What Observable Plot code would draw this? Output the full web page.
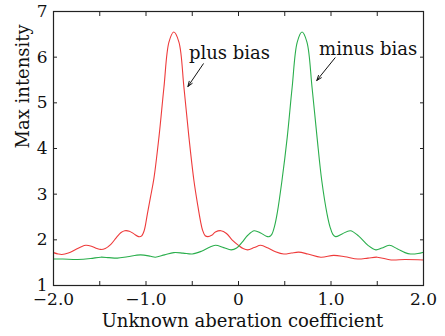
<!DOCTYPE html>
<html><head><meta charset="utf-8">
<script src="https://cdn.jsdelivr.net/npm/d3@7"></script>
<script src="https://cdn.jsdelivr.net/npm/@observablehq/plot@0.6"></script>
<style>body{margin:0;background:#fff} svg, svg text{font-family:"DejaVu Serif", serif !important;}</style>
</head><body><div id="chart"></div>
<script>
// plus bias (red)
const xRed = [-2.00,-1.95,-1.91,-1.84,-1.76,-1.70,-1.65,-1.59,-1.53,-1.49,-1.44,-1.38,-1.32,-1.27,-1.23,-1.18,-1.13,-1.08,-1.05,-1.02,-0.985,-0.95,-0.914,-0.86,-0.806,-0.752,-0.70,-0.644,-0.59,-0.536,-0.482,-0.44,-0.41,-0.39,-0.36,-0.33,-0.29,-0.25,-0.19,-0.13,-0.07,0.00,0.05,0.10,0.17,0.24,0.32,0.40,0.49,0.57,0.65,0.75,0.89,1.03,1.15,1.29,1.40,1.50,1.65,1.80,2.00];
const yRed = [1.72,1.69,1.68,1.71,1.79,1.85,1.88,1.86,1.81,1.79,1.81,1.90,2.05,2.16,2.20,2.19,2.13,2.07,2.08,2.20,2.57,2.95,3.35,4.25,5.34,6.33,6.55,6.33,5.34,4.25,3.30,2.75,2.40,2.22,2.09,2.07,2.10,2.17,2.20,2.14,2.00,1.88,1.81,1.78,1.83,1.88,1.82,1.74,1.69,1.71,1.73,1.69,1.62,1.66,1.63,1.58,1.60,1.62,1.56,1.57,1.56];
// minus bias (green)
const xGreen = [-2.00,-1.90,-1.74,-1.60,-1.49,-1.40,-1.31,-1.20,-1.06,-0.95,-0.90,-0.80,-0.70,-0.60,-0.50,-0.40,-0.32,-0.25,-0.16,-0.08,-0.02,0.04,0.10,0.17,0.24,0.30,0.33,0.36,0.39,0.42,0.47,0.527,0.58,0.635,0.687,0.74,0.795,0.849,0.90,0.957,0.99,1.02,1.05,1.12,1.21,1.30,1.40,1.485,1.55,1.63,1.72,1.80,1.86,1.94,2.00];
const yGreen = [1.58,1.58,1.57,1.59,1.62,1.61,1.60,1.63,1.67,1.64,1.62,1.67,1.72,1.71,1.69,1.75,1.83,1.88,1.83,1.78,1.82,1.95,2.10,2.20,2.15,2.08,2.07,2.12,2.30,2.60,3.30,4.25,5.34,6.33,6.55,6.33,5.34,4.25,3.30,2.57,2.28,2.12,2.07,2.13,2.20,2.08,1.88,1.78,1.82,1.88,1.80,1.72,1.69,1.70,1.73];

const xMinorTicks = [-2,-1.5,-1,-0.5,0,0.5,1,1.5,2];
const xMajorTicks = [-2,-1,0,1,2];
const yTicks = [1,2,3,4,5,6,7];
const xTitle = "Unknown aberation coefficient";
const yTitle = "Max intensity";
const annotLabels = ["plus bias","minus bias"];
const annotX = [-0.536, 0.871];
const annotY = [6.08, 6.17];
const arrowX1 = [-0.380, 1.044];
const arrowY1 = [5.855, 5.986];
const arrowX2 = [-0.547, 0.846];
const arrowY2 = [5.358, 5.489];

const red = xRed.map((x,i)=>({x, y:yRed[i]}));
const green = xGreen.map((x,i)=>({x, y:yGreen[i]}));
const annots = annotLabels.map((t,i)=>({t, x:annotX[i], y:annotY[i]}));
const arrows = arrowX1.map((x1,i)=>({x1, y1:arrowY1[i], x2:arrowX2[i], y2:arrowY2[i]}));
const fmt = d => d === 0 ? "0" : d3.format(".1f")(d);
const fmtY = d3.format("d");
const blank = () => "";

const chart = Plot.plot({
  width:445, height:336,
  marginLeft:53, marginRight:22, marginTop:11, marginBottom:51,
  style:{fontFamily:"'DejaVu Serif', serif", fontSize:"17px", background:"#fff", color:"#111"},
  x:{domain:[-2,2]}, y:{domain:[1,7]},
  marks:[
    Plot.line(red,{x:"x",y:"y",stroke:"#ee3b3b",strokeWidth:1.1,curve:"catmull-rom"}),
    Plot.line(green,{x:"x",y:"y",stroke:"#2aae4c",strokeWidth:1.1,curve:"catmull-rom"}),
    Plot.axisX({ticks:xMinorTicks, tickSize:-4, tickFormat:blank, label:null, stroke:"#222"}),
    Plot.axisX({anchor:"top", ticks:xMinorTicks, tickSize:-4, tickFormat:blank, label:null, stroke:"#222"}),
    Plot.axisX({ticks:xMajorTicks, tickSize:0, tickPadding:7, tickFormat:fmt, label:null, fontSize:17}),
    Plot.axisY({ticks:yTicks, tickSize:-4, tickFormat:blank, label:null, stroke:"#222"}),
    Plot.axisY({anchor:"right", ticks:yTicks, tickSize:-4, tickFormat:blank, label:null, stroke:"#222"}),
    Plot.axisY({ticks:yTicks, tickSize:0, tickPadding:6, tickFormat:fmtY, label:null, fontSize:17}),
    Plot.frame({stroke:"#222", strokeWidth:1.2}),
    Plot.text([xTitle], {frameAnchor:"bottom", dx:4, dy:41, text:d=>d, fontSize:18}),
    Plot.text([yTitle], {frameAnchor:"left", dx:-30, rotate:-90, text:d=>d, fontSize:18}),
    Plot.text(annots, {x:"x", y:"y", text:"t", textAnchor:"start", fontSize:18}),
    Plot.arrow(arrows, {x1:"x1", y1:"y1", x2:"x2", y2:"y2", headLength:8, headAngle:40, strokeWidth:1, stroke:"#111"})
  ]
});
document.getElementById("chart").appendChild(chart);
</script>
</body></html>
